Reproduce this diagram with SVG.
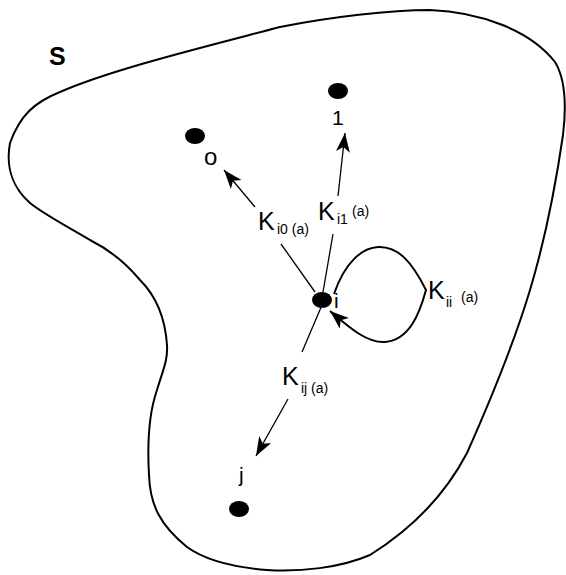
<svg xmlns="http://www.w3.org/2000/svg" width="566" height="575" viewBox="0 0 566 575">
<style>
.k{font-family:"Liberation Sans",Arial,sans-serif;font-size:25px;fill:#000}
.s{font-family:"Liberation Sans",Arial,sans-serif;font-size:14px;fill:#000}
.lab{font-family:"Liberation Sans",Arial,sans-serif;font-size:21px;fill:#000}
.edge{fill:none;stroke:#000;stroke-width:1.3}
.dot{fill:#000}
</style>
<defs>
<marker id="ah" markerWidth="22" markerHeight="16" refX="19" refY="7" orient="auto" markerUnits="userSpaceOnUse">
<path d="M0,0 L19,7 L0,14 L5,7 Z" fill="#000"/>
</marker>
</defs>
<rect width="566" height="575" fill="#fff"/>
<path id="set-S" d="M10,143 C20,115 35,102 60,92 C110,70 200,48 280,27 C330,17 390,10 430,10 C480,12 530,30 555,62 C566,80 566,110 563,135 C555,190 545,240 530,290 C515,340 495,390 467,453 C445,495 410,530 370,555 C340,568 300,572 267,570 C230,567 205,560 187,547 C160,525 150,505 149,475 C147,440 150,410 157,390 C163,370 168,360 167,345 C165,315 155,295 140,280 C125,262 110,250 90,240 C70,228 45,215 30,203 C15,190 5,170 10,143 Z" fill="none" stroke="#000" stroke-width="2"/>
<text x="49" y="65" style="font-family:'Liberation Sans',Arial,sans-serif;font-weight:bold;font-size:25px">S</text>
<g id="connectors">
<path class="edge" d="M315,292 L281,244"/>
<path class="edge" d="M255,207 L224,170" marker-end="url(#ah)"/>
<path class="edge" d="M323,292 L333,234"/>
<path class="edge" d="M338,196 L345,133" marker-end="url(#ah)"/>
<path class="edge" d="M322,305 L302,352"/>
<path class="edge" d="M288,399 L256,456" marker-end="url(#ah)"/>
<path class="edge" style="stroke-width:2" d="M334,294 C345,262 362,248 378,247 C398,246 412,262 426,290 C420,312 410,340 385,342 C368,343 352,330 330,311" marker-end="url(#ah)"/>
</g>
<g id="node-i"><ellipse class="dot" cx="322" cy="300" rx="10" ry="8"/><text class="lab" x="334" y="308">i</text></g>
<g id="node-1"><ellipse class="dot" cx="338" cy="91" rx="10" ry="8"/><text class="lab" x="332" y="125">1</text></g>
<g id="node-o"><ellipse class="dot" cx="195" cy="136" rx="10" ry="8"/><text x="204" y="165" style="font-family:'Liberation Sans',Arial,sans-serif;font-size:24px">o</text></g>
<g id="node-j"><ellipse class="dot" cx="239" cy="509" rx="10" ry="8"/><text class="lab" x="239" y="482">j</text></g>
<g id="label-i0"><text class="k" x="258" y="230">K</text><text class="s" x="277" y="234">i0 (a)</text></g>
<g id="label-i1"><text class="k" x="318" y="220">K</text><text class="s" x="337" y="224">i1</text><text class="s" x="352" y="216">(a)</text></g>
<g id="label-ii"><text class="k" x="428" y="299">K</text><text class="s" x="446" y="307">ii</text><text class="s" x="461" y="302">(a)</text></g>
<g id="label-ij"><text class="k" x="282" y="385">K</text><text class="s" x="301" y="393">ij (a)</text></g>
</svg>
